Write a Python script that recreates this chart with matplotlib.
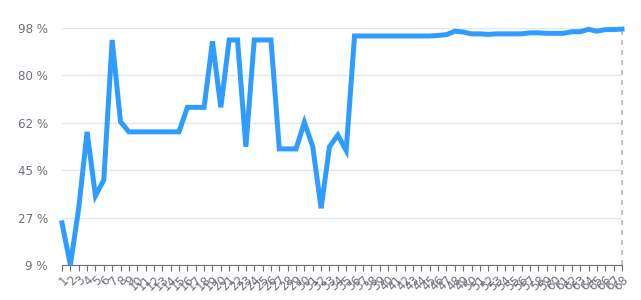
import numpy as np
import matplotlib.pyplot as plt

# category labels 1..68 and the percentage values
labels = [str(i) for i in range(1, 69)]
values = [
    24.8, 9.0, 30.3, 59.0, 35.0, 40.9, 93.5, 62.8, 59.0, 59.0,
    59.0, 59.0, 59.0, 59.0, 59.0, 68.2, 68.2, 68.2, 93.0, 68.2,
    93.5, 93.5, 53.4, 93.5, 93.5, 93.5, 52.6, 52.6, 52.6, 62.6,
    53.4, 30.3, 53.4, 57.8, 52.0, 95.0, 95.0, 95.0, 95.0, 95.0,
    95.0, 95.0, 95.0, 95.0, 95.0, 95.2, 95.5, 96.8, 96.5, 95.8,
    95.8, 95.6, 95.8, 95.8, 95.8, 95.8, 96.2, 96.2, 96.0, 96.0,
    96.0, 96.6, 96.6, 97.5, 96.8, 97.4, 97.4, 97.6,
]
y_ticks = np.linspace(9, 98, 6)
y_tick_labels = ['%d %%' % round(v) for v in y_ticks]

axis_col = '#6E7079'
grid_col = '#E0E6F1'

fig = plt.figure(figsize=(6.41, 3.0), dpi=100)
ax = fig.add_axes([62 / 641, 35 / 300, 560 / 641, 237 / 300])

x = np.arange(1, len(values) + 1)
ax.plot(x, values, color='#2f9dff', linewidth=3.6, solid_joinstyle='miter',
        clip_on=False, zorder=3)

ax.set_xlim(1, len(values))
ax.set_ylim(9, 98)

ax.set_yticks(y_ticks)
ax.set_yticklabels(y_tick_labels, fontsize=8.6, color=axis_col)
ax.tick_params(axis='y', length=0, pad=10)
ax.yaxis.grid(True, color=grid_col, linewidth=1)
ax.set_axisbelow(True)

ax.set_xticks(x)
ax.set_xticklabels(labels, fontsize=8.6, color=axis_col, rotation=45,
                   ha='right', rotation_mode='anchor')
ax.tick_params(axis='x', length=4, color=axis_col, pad=2)

for side in ['top', 'right', 'left']:
    ax.spines[side].set_visible(False)
ax.spines['bottom'].set_color(axis_col)

# dashed pointer line at the last category
ax.axvline(len(values), color='#b8b8b8', linestyle=(0, (3, 3)), linewidth=1.2,
           clip_on=False, zorder=2)

fig.savefig('out.png', dpi=100)
